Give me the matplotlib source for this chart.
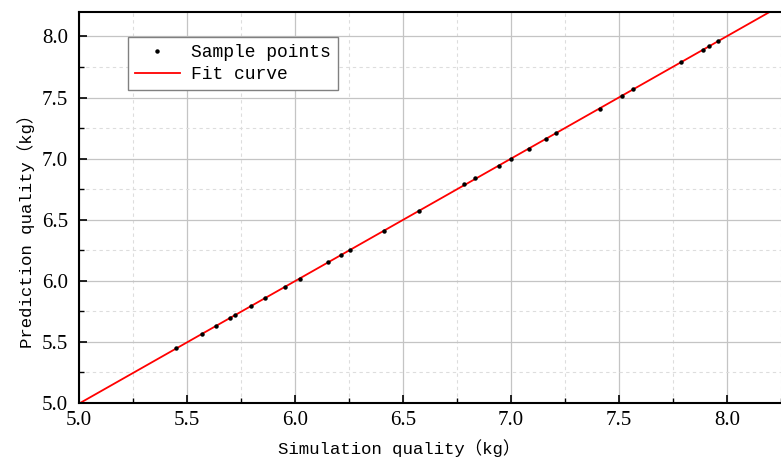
import numpy as np
import matplotlib
matplotlib.use("Agg")
import matplotlib.pyplot as plt
from matplotlib.ticker import MultipleLocator

# simulated vs predicted mass (kg)
sim = [5.449, 5.571, 5.636, 5.697, 5.722, 5.796, 5.861, 5.955, 6.023, 6.151,
       6.213, 6.256, 6.413, 6.574, 6.784, 6.835, 6.943, 6.999, 7.082, 7.162,
       7.208, 7.413, 7.514, 7.565, 7.787, 7.888, 7.915, 7.958]
pred = [5.448, 5.568, 5.634, 5.694, 5.719, 5.795, 5.861, 5.948, 6.016, 6.150,
        6.211, 6.254, 6.407, 6.571, 6.789, 6.839, 6.940, 6.997, 7.082, 7.161,
        7.211, 7.410, 7.514, 7.568, 7.793, 7.888, 7.918, 7.962]

ticks = [5.0, 5.5, 6.0, 6.5, 7.0, 7.5, 8.0]

lab_font = ['Liberation Mono', 'Noto Sans CJK SC']

fig = plt.figure(figsize=(7.81, 4.63), dpi=100)
ax = fig.add_axes([0.1012, 0.1296, 0.9127, 0.8445])

k, b = np.polyfit(sim, pred, 1)
xf = np.array([5.0, 8.3])
ax.plot(xf, k * xf + b, color='red', lw=1.3, label='Fit curve', zorder=2)
ax.plot(sim, pred, 'o', color='black', ms=2.2, label='Sample points', zorder=3)

ax.set_xlim(5.0, 8.3)
ax.set_ylim(5.0, 8.2)
ax.set_xticks(ticks)
ax.set_yticks(ticks)
ax.xaxis.set_minor_locator(MultipleLocator(0.25))
ax.yaxis.set_minor_locator(MultipleLocator(0.25))
ax.grid(True, which='major', color='#c4c4c4', lw=0.9)
ax.grid(True, which='minor', color='#dddddd', lw=0.8, ls=(0, (3, 3)))
ax.set_axisbelow(True)

ax.tick_params(which='major', direction='in', length=6, width=1.2, labelsize=15)
ax.tick_params(axis='x', which='major', pad=6)
ax.tick_params(axis='y', which='major', pad=8)
ax.tick_params(which='minor', direction='in', length=3.5, width=1.0)
for t in ax.get_xticklabels() + ax.get_yticklabels():
    t.set_fontfamily('Liberation Serif')

for s in ax.spines.values():
    s.set_linewidth(1.5)

ax.set_xlabel('Simulation quality（kg）', family=lab_font, fontsize=12.5)
ax.set_ylabel('Prediction quality（kg）', family=lab_font, fontsize=12.5)
ax.xaxis.set_label_coords(0.449, -0.093)
ax.yaxis.set_label_coords(-0.062, 0.45)

h, l = ax.get_legend_handles_labels()
leg = ax.legend([h[1], h[0]], [l[1], l[0]], loc='upper left',
                bbox_to_anchor=(0.068, 0.937), prop={'family': lab_font, 'size': 13},
                fancybox=False, edgecolor='#808080', framealpha=1,
                borderaxespad=0, handlelength=2.5, handletextpad=0.6,
                labelspacing=0.3, borderpad=0.4)
leg.get_frame().set_linewidth(1.0)

fig.savefig('out.png', dpi=100)
